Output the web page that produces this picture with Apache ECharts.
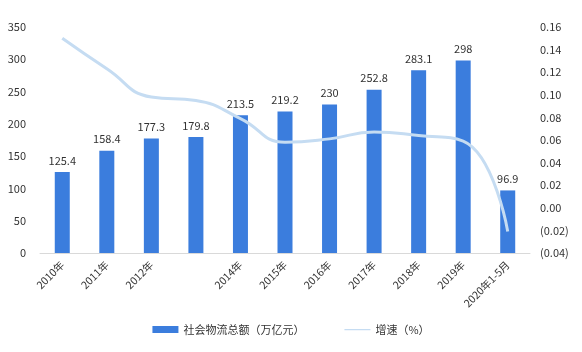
<!DOCTYPE html>
<html>
<head>
<meta charset="utf-8">
<script src="https://cdn.jsdelivr.net/npm/echarts@6/dist/echarts.min.js"></script>
<style>
html, body { margin: 0; padding: 0; background: #fff; }
#chart { width: 582px; height: 352px; }
</style>
</head>
<body>
<div id="chart"></div>
<script>
// 类目（2013年标签在原图中缺失）
var categories = ['2010年', '2011年', '2012年', '', '2014年', '2015年', '2016年', '2017年', '2018年', '2019年', '2020年1-5月']
// 社会物流总额（万亿元）
var totalValues = [125.4, 158.4, 177.3, 179.8, 213.5, 219.2, 230, 252.8, 283.1, 298, 96.9]
// 增速
var growthValues = [0.150, 0.123, 0.098, 0.095, 0.079, 0.058, 0.061, 0.067, 0.064, 0.059, -0.021]

var chart = echarts.init(document.getElementById('chart'))
var option = {
    animation: false,
    textStyle: { fontFamily: '"Noto Sans CJK SC", "Open Sans", sans-serif' },
    grid: { left: 40, right: 52, top: 27, bottom: 99 },
    legend: {
        bottom: 12,
        left: 'center',
        itemGap: 40,
        itemWidth: 26,
        itemHeight: 7,
        textStyle: { fontSize: 11, color: '#333' },
        data: [
            { name: '社会物流总额（万亿元）', icon: 'rect' },
            // 细线图标（四角的小点只用来撑开包围盒）
            { name: '增速（%）', icon: 'path://M0,0H0.01V0.01H0Z M0,3H30V4.5H0Z M29.99,7H30V7.01H29.99Z' }
        ]
    },
    xAxis: {
        type: 'category',
        data: categories,
        axisLine: { lineStyle: { color: '#d9d9d9' } },
        axisTick: { show: false },
        axisLabel: { rotate: 45, interval: 0, fontSize: 10.5, color: '#333', margin: 10 }
    },
    yAxis: [
        {
            type: 'value',
            min: 0, max: 350, interval: 50,
            splitLine: { show: false },
            axisLine: { show: false },
            axisTick: { show: false },
            axisLabel: { fontSize: 11, color: '#333', margin: 14 }
        },
        {
            type: 'value',
            min: -0.04, max: 0.16, interval: 0.02,
            splitLine: { show: false },
            axisLine: { show: false },
            axisTick: { show: false },
            axisLabel: {
                fontSize: 11, color: '#333', margin: 10,
                formatter: function (v) {
                    var s = Math.abs(v).toFixed(2)
                    return v < -1e-9 ? '(' + s + ')' : s
                }
            }
        }
    ],
    series: [
        {
            name: '社会物流总额（万亿元）',
            type: 'bar',
            data: totalValues,
            barWidth: 15,
            itemStyle: { color: '#3b7ddd' },
            label: { show: true, position: 'top', fontSize: 11, color: '#333', distance: 6 }
        },
        {
            name: '增速（%）',
            type: 'line',
            yAxisIndex: 1,
            data: growthValues,
            smooth: true,
            symbol: 'none',
            lineStyle: { color: '#c5dcf2', width: 3 },
            itemStyle: { color: '#c5dcf2' }
        }
    ]
}
chart.setOption(option)
</script>
</body>
</html>
